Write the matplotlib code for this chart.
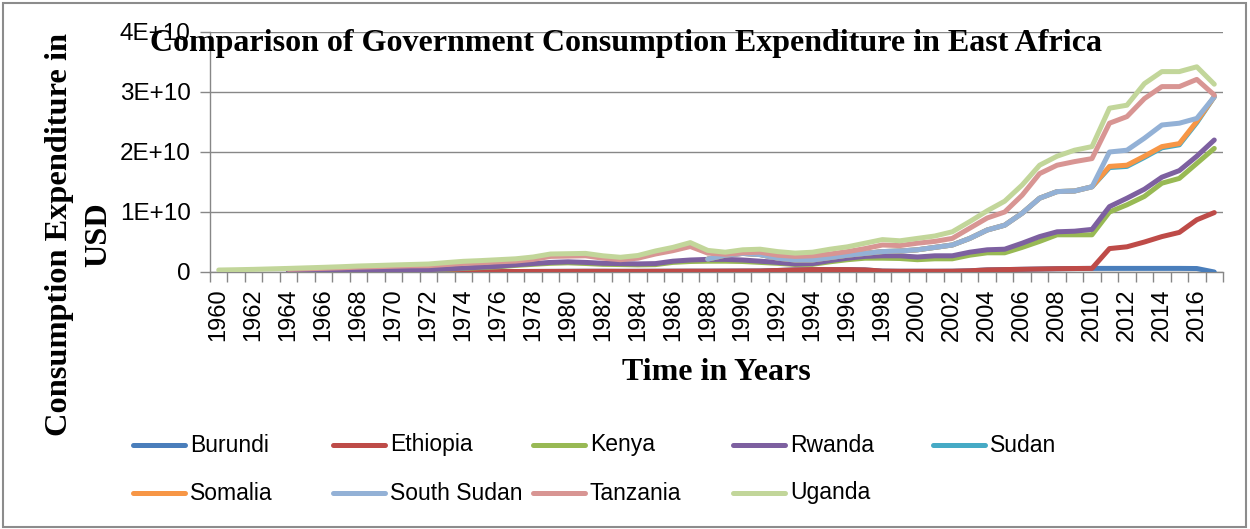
import numpy as np
import matplotlib
matplotlib.use("Agg")
import matplotlib.pyplot as plt
from matplotlib.ticker import FixedLocator, FuncFormatter
from matplotlib.lines import Line2D
from matplotlib.patches import Rectangle

# Government consumption expenditure, billions of USD (None = no data)
years = list(range(1960, 2018))

burundi = [None] * 5 + [
    0.02, 0.02, 0.02, 0.03, 0.03, 0.03, 0.04, 0.04, 0.05, 0.05,
    0.06, 0.07, 0.08, 0.09, 0.10, 0.11, 0.12, 0.12, 0.11, 0.11,
    0.12, 0.13, 0.14, 0.14, 0.15, 0.16, 0.17, 0.25, 0.35, 0.40,
    0.40, 0.40, 0.35, 0.15, 0.12, 0.12, 0.12, 0.13, 0.20, 0.35,
    0.40, 0.45, 0.50, 0.55, 0.58, 0.60, 0.60, 0.60, 0.60, 0.60,
    0.60, 0.58, 0.0]

ethiopia = [None] * 11 + [0.0] * 40 + [3.30, 3.60, 4.40, 5.30, 6.00, 8.12, 9.90]

kenya = [None] * 4 + [
    0.04, 0.05, 0.06, 0.08, 0.11, 0.16, 0.22, 0.25, 0.32, 0.40,
    0.54, 0.67, 0.80, 1.02, 1.19, 1.35, 1.42, 1.30, 1.16, 1.13,
    1.08, 1.11, 1.47, 1.61, 1.66, 1.65, 1.59, 1.43, 1.20, 0.90,
    0.88, 1.30, 1.65, 1.95, 2.15, 2.13, 1.93, 2.08, 2.07, 2.60,
    2.85, 2.80, 3.65, 4.60, 5.65, 5.62, 5.60, 6.10, 7.00, 7.60,
    8.90, 9.00, 9.40, 10.70]

rwanda = [None] * 4 + [
    0.01, 0.01, 0.02, 0.03, 0.03, 0.03, 0.03, 0.04, 0.04, 0.05,
    0.06, 0.07, 0.08, 0.10, 0.12, 0.15, 0.17, 0.18, 0.17, 0.16,
    0.16, 0.17, 0.20, 0.25, 0.30, 0.30, 0.25, 0.20, 0.15, 0.10,
    0.12, 0.20, 0.25, 0.30, 0.40, 0.45, 0.45, 0.50, 0.50, 0.50,
    0.50, 0.60, 0.70, 0.80, 0.50, 0.60, 0.90, 0.90, 1.10, 1.20,
    1.00, 1.30, 1.20, 1.40]

sudan = [None] * 28 + [
    0.05, 0.70, 1.10, 1.10, 0.70, 0.65, 0.60, 0.50, 0.50, 0.50,
    0.70, 0.80, 1.20, 1.40, 1.80, 2.30, 3.30, 4.00, 5.00, 6.40,
    6.70, 6.70, 7.10, 6.50, 5.30, 5.30, 4.90, 4.30, 5.60, 7.20]

somalia = [None] * 28 + [0.0] * 23 + [0.20, 0.20, 0.20, 0.20, 0.20, 0.20, 0.0]

south_sudan = [None] * 28 + [0.0] * 23 + [2.40, 2.50, 3.00, 3.60, 3.40, 0.50, 0.0]

tanzania = [None] * 4 + [
    0.40, 0.45, 0.51, 0.57, 0.64, 0.66, 0.68, 0.70, 0.65, 0.74,
    0.78, 0.75, 0.75, 0.62, 0.70, 1.00, 0.95, 1.10, 0.85, 0.65,
    0.95, 1.60, 1.75, 2.25, 1.00, 0.15, 0.10, 0.40, 0.50, 0.60,
    0.70, 0.60, 0.60, 0.80, 1.10, 0.90, 1.10, 1.00, 1.10, 1.70,
    2.00, 2.20, 3.00, 4.10, 4.40, 4.90, 4.70, 4.80, 5.60, 6.60,
    6.40, 6.10, 6.50, 0.30]

uganda = [
    0.33, 0.38, 0.44, 0.52, 0.15, 0.16, 0.17, 0.18, 0.19, 0.20,
    0.21, 0.22, 0.28, 0.32, 0.35, 0.35, 0.35, 0.38, 0.40, 0.40,
    0.40, 0.40, 0.40, 0.40, 0.45, 0.50, 0.55, 0.65, 0.45, 0.35,
    0.50, 0.50, 0.60, 0.55, 0.60, 0.80, 0.80, 0.90, 0.90, 0.80,
    0.80, 0.90, 1.10, 1.10, 1.20, 1.80, 1.70, 1.40, 1.50, 1.90,
    2.00, 2.50, 1.90, 2.50, 2.50, 2.50, 2.10, 1.80]

countries = ["Burundi", "Ethiopia", "Kenya", "Rwanda", "Sudan",
             "Somalia", "South Sudan", "Tanzania", "Uganda"]
series = [burundi, ethiopia, kenya, rwanda, sudan,
          somalia, south_sudan, tanzania, uganda]
colors = ["#4A7EBB", "#BE4B48", "#98B954", "#7D60A0", "#46AAC5",
          "#F79646", "#93B1D6", "#D89593", "#C2D69A"]

y_ticks = [0, 1e10, 2e10, 3e10, 4e10]

serif = ["Liberation Serif", "DejaVu Serif"]
sans = ["Liberation Sans", "DejaVu Sans"]

fig = plt.figure(figsize=(12.5, 5.29), dpi=100)
ax = fig.add_axes([210 / 1250, 1 - 272 / 529, 1013 / 1250, 240 / 529])

x = np.arange(len(years))
base = np.zeros(len(years))
grid_c = "#878787"

# stacked lines: a missing value adds nothing to the stack and leaves a gap in its own line
for k, (vals, col) in enumerate(zip(series, colors)):
    v = np.array([np.nan if s is None else s * 1e9 for s in vals], dtype=float)
    cum = base + np.nan_to_num(v)
    ax.plot(x, np.where(np.isnan(v), np.nan, cum), color=col, lw=3.6,
            solid_joinstyle="round", solid_capstyle="round", zorder=3 + k)
    base = cum

ax.set_xlim(-0.5, len(years) - 0.5)
ax.set_ylim(0, 4e10)
ax.yaxis.set_major_locator(FixedLocator(y_ticks))
ax.yaxis.set_major_formatter(FuncFormatter(
    lambda v, p: "0" if v == 0 else f"{v / 1e10:.0f}E+10"))
ax.grid(axis="y", color=grid_c, lw=1.0, zorder=1)
ax.set_axisbelow(True)

ax.set_xticks(x[::2])
ax.set_xticklabels([str(y) for y in years[::2]], rotation=90)
ax.set_xticks(np.arange(len(years) + 1) - 0.5, minor=True)
ax.tick_params(axis="x", which="major", length=0, pad=12,
               labelsize=17, labelcolor="black")
ax.tick_params(axis="x", which="minor", length=7, width=1, color=grid_c)
ax.tick_params(axis="y", length=7, width=1, color=grid_c, pad=7,
               labelsize=17.5, labelcolor="black")
for lab in ax.get_xticklabels() + ax.get_yticklabels():
    lab.set_family(sans)

for side in ("top", "right"):
    ax.spines[side].set_visible(False)
for side in ("left", "bottom"):
    ax.spines[side].set_color(grid_c)
    ax.spines[side].set_linewidth(1.0)

# titles
fig.text(0.501, 1 - 44 / 529,
         "Comparison of Government Consumption Expenditure in East Africa",
         ha="center", va="center", fontsize=23, fontweight="bold",
         family=serif, zorder=10)
fig.text(79 / 1250, 1 - 235 / 529, "Consumption Expenditure in\nUSD",
         rotation=90, ha="center", va="center", ma="center",
         fontsize=23.3, fontweight="bold", family=serif, linespacing=1.5)
fig.text(716 / 1250, 1 - 372 / 529, "Time in Years", ha="center",
         va="center", fontsize=23, fontweight="bold", family=serif)

# legend: five equal-width columns
for k, (name, col) in enumerate(zip(countries, colors)):
    row, c = divmod(k, 5)
    x0 = (133 + 200 * c) / 1250
    y0 = 1 - (445 + 48 * row) / 529
    fig.add_artist(Line2D([x0, x0 + 52 / 1250], [y0, y0], color=col, lw=3.6,
                          solid_capstyle="round", transform=fig.transFigure))
    fig.text(x0 + 57 / 1250, y0, name, ha="left", va="center",
             fontsize=16.5, family=sans)

# chart area border
fig.add_artist(Rectangle((3 / 1250, 2 / 529), 1243 / 1250, 524 / 529,
                         transform=fig.transFigure, fill=False,
                         edgecolor="#8c8c8c", lw=1.5))

fig.savefig("out.png", dpi=100)
